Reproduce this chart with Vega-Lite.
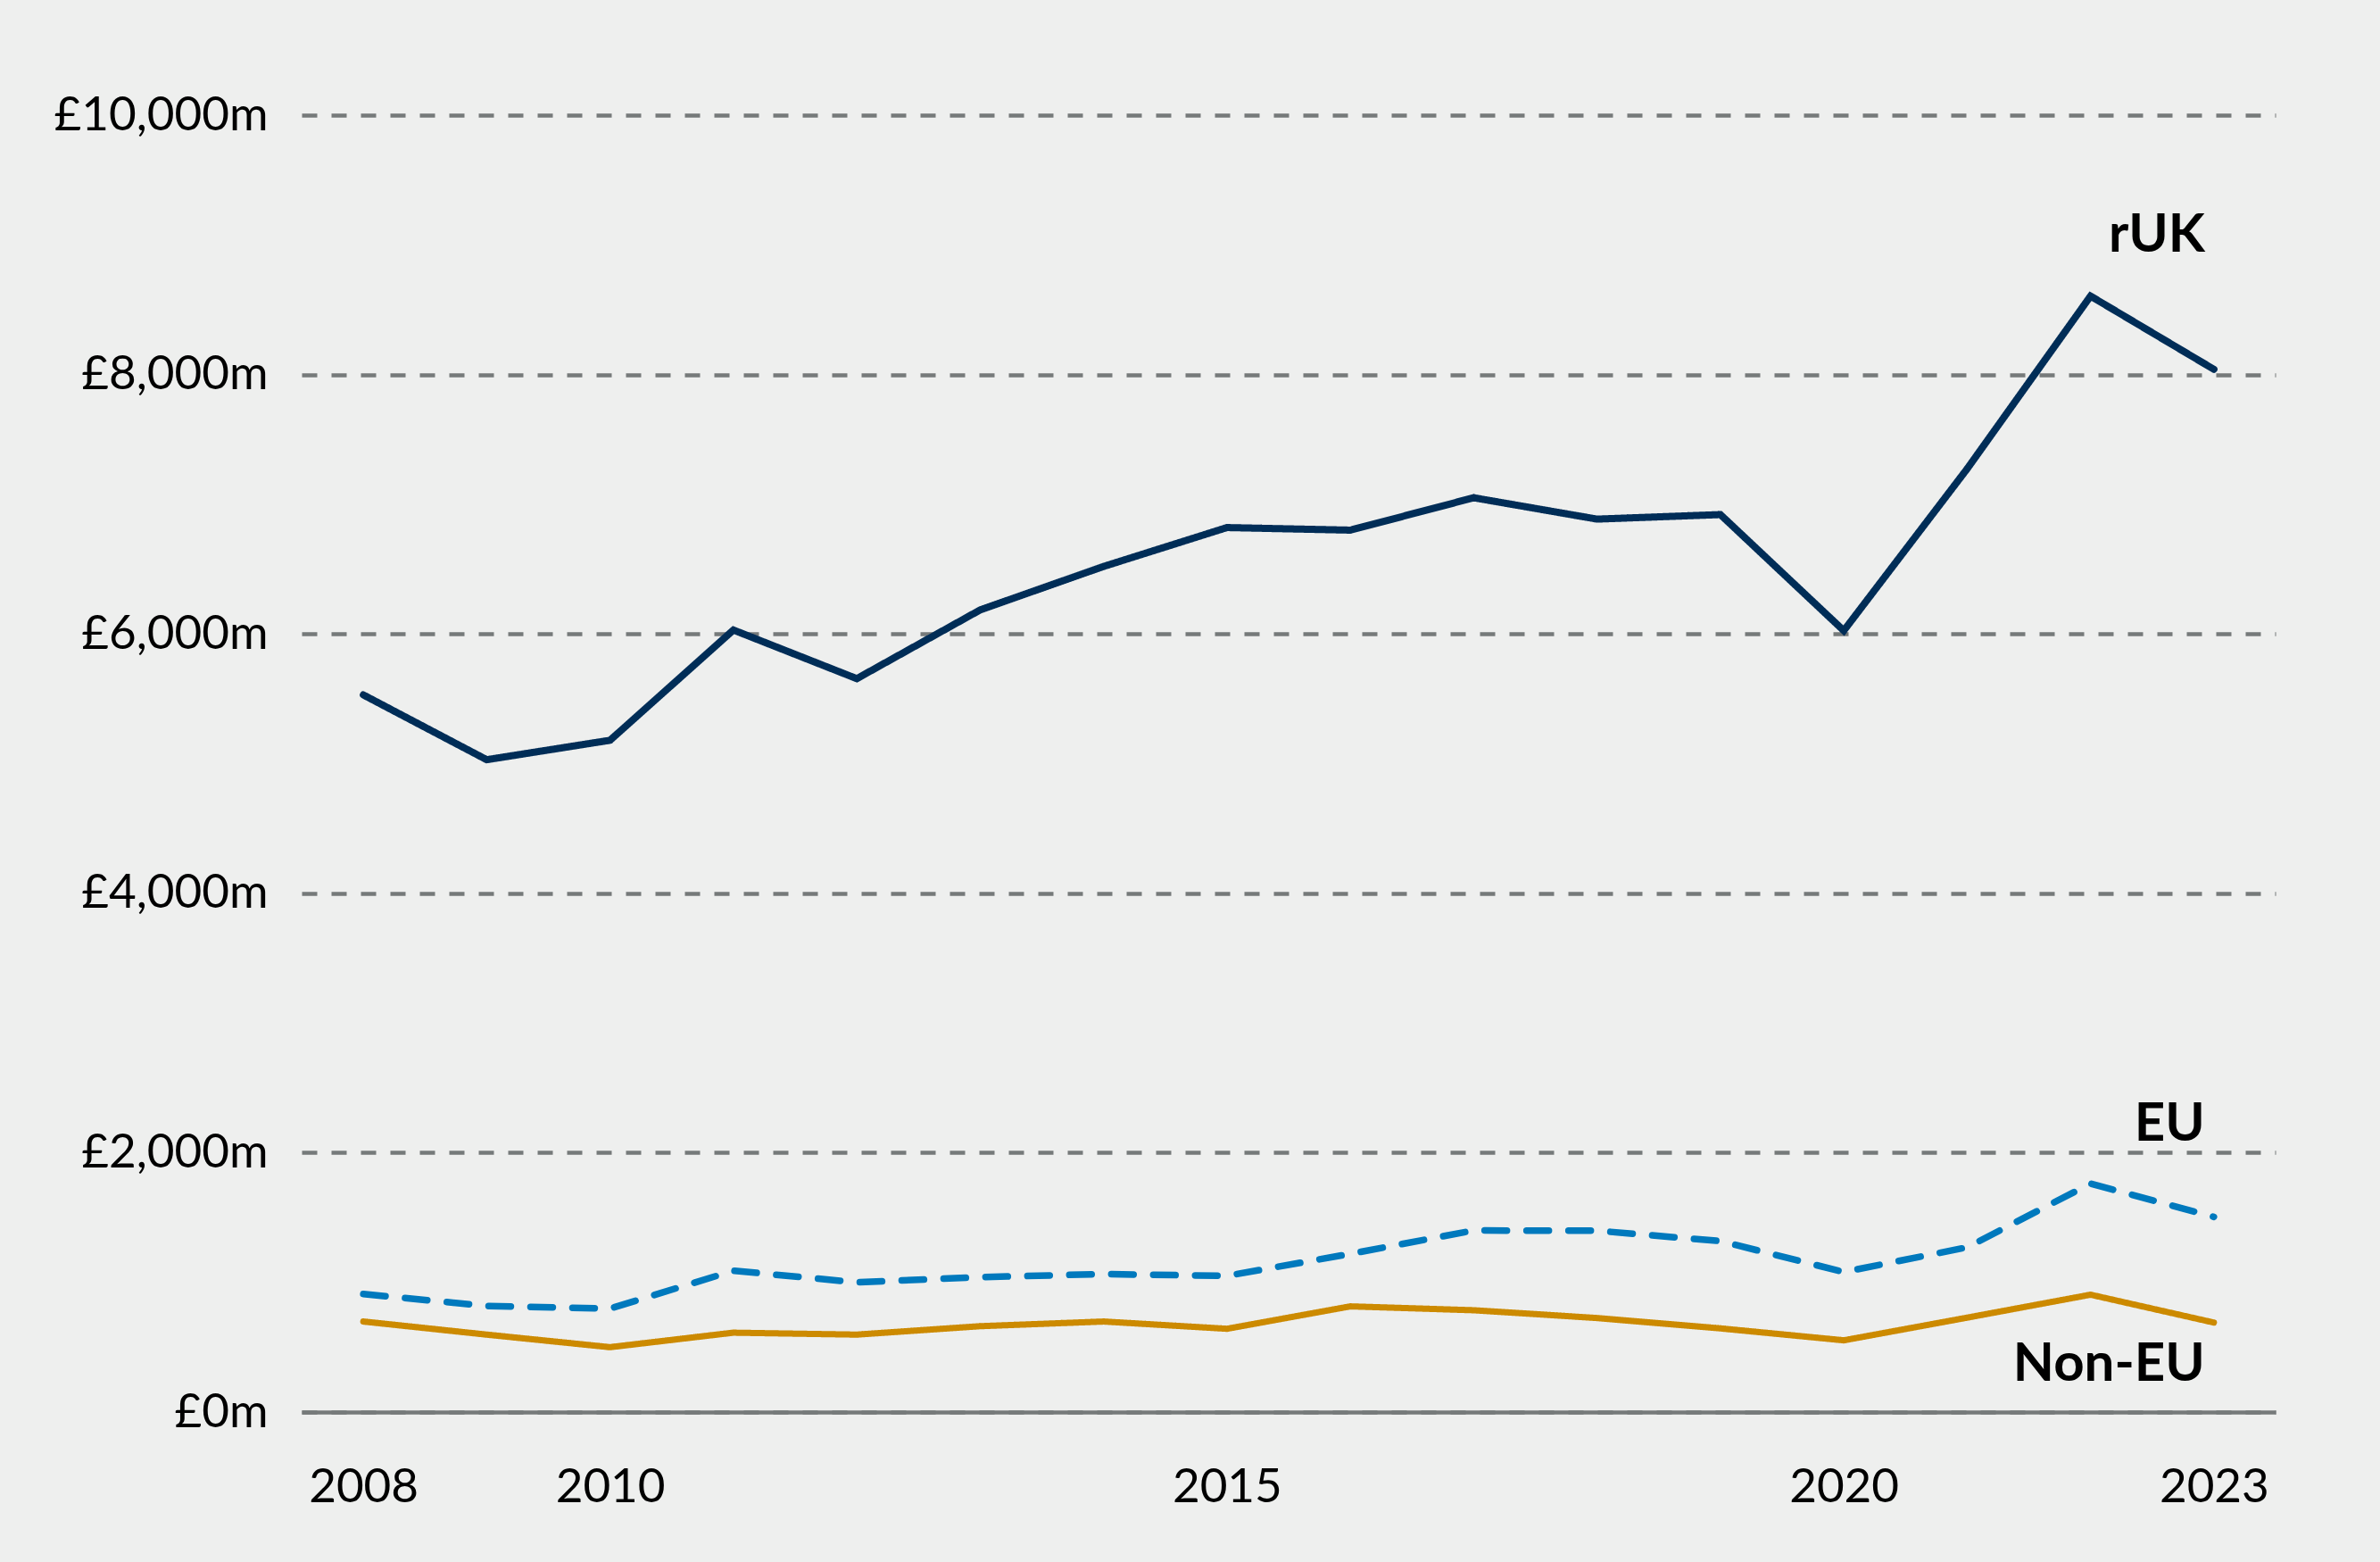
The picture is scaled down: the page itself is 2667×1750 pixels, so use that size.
{
  "$schema": "https://vega.github.io/schema/vega-lite/v6.json",
  "autosize": "none",
  "width": 2212,
  "height": 1453,
  "padding": {"left": 338, "top": 129, "right": 117, "bottom": 168},
  "background": "#eeefee",
  "config": {
    "view": {"stroke": null},
    "font": "Lato",
    "axis": {"labelFont": "Lato", "labelColor": "#000000", "labelFontSize": 53, "labelLimit": 0, "ticks": false, "title": null}
  },
  "datasets": {
    "series": [
      {"year": 2008, "series": "rUK", "value": 5530},
      {"year": 2009, "series": "rUK", "value": 5030},
      {"year": 2010, "series": "rUK", "value": 5180},
      {"year": 2011, "series": "rUK", "value": 6030},
      {"year": 2012, "series": "rUK", "value": 5655},
      {"year": 2013, "series": "rUK", "value": 6185},
      {"year": 2014, "series": "rUK", "value": 6520},
      {"year": 2015, "series": "rUK", "value": 6820},
      {"year": 2016, "series": "rUK", "value": 6800},
      {"year": 2017, "series": "rUK", "value": 7050},
      {"year": 2018, "series": "rUK", "value": 6885},
      {"year": 2019, "series": "rUK", "value": 6920},
      {"year": 2020, "series": "rUK", "value": 6025},
      {"year": 2021, "series": "rUK", "value": 7273},
      {"year": 2022, "series": "rUK", "value": 8605},
      {"year": 2023, "series": "rUK", "value": 8040},
      {"year": 2008, "series": "EU", "value": 910},
      {"year": 2009, "series": "EU", "value": 818},
      {"year": 2010, "series": "EU", "value": 798},
      {"year": 2011, "series": "EU", "value": 1090},
      {"year": 2012, "series": "EU", "value": 1000},
      {"year": 2013, "series": "EU", "value": 1040},
      {"year": 2014, "series": "EU", "value": 1064},
      {"year": 2015, "series": "EU", "value": 1050},
      {"year": 2016, "series": "EU", "value": 1220},
      {"year": 2017, "series": "EU", "value": 1400},
      {"year": 2018, "series": "EU", "value": 1398},
      {"year": 2019, "series": "EU", "value": 1318},
      {"year": 2020, "series": "EU", "value": 1080},
      {"year": 2021, "series": "EU", "value": 1270},
      {"year": 2022, "series": "EU", "value": 1762},
      {"year": 2023, "series": "EU", "value": 1505},
      {"year": 2008, "series": "Non-EU", "value": 698},
      {"year": 2009, "series": "Non-EU", "value": 597},
      {"year": 2010, "series": "Non-EU", "value": 500},
      {"year": 2011, "series": "Non-EU", "value": 612},
      {"year": 2012, "series": "Non-EU", "value": 597},
      {"year": 2013, "series": "Non-EU", "value": 662},
      {"year": 2014, "series": "Non-EU", "value": 698},
      {"year": 2015, "series": "Non-EU", "value": 642},
      {"year": 2016, "series": "Non-EU", "value": 815},
      {"year": 2017, "series": "Non-EU", "value": 785},
      {"year": 2018, "series": "Non-EU", "value": 725},
      {"year": 2019, "series": "Non-EU", "value": 645},
      {"year": 2020, "series": "Non-EU", "value": 553},
      {"year": 2021, "series": "Non-EU", "value": 728},
      {"year": 2022, "series": "Non-EU", "value": 905},
      {"year": 2023, "series": "Non-EU", "value": 690}
    ],
    "labels": [
      {"year": 2023, "value": 8950, "label": "rUK"},
      {"year": 2023, "value": 2093, "label": "EU"},
      {"year": 2023, "value": 241, "label": "Non-EU"}
    ]
  },
  "layer": [
    {
      "data": {"name": "series"},
      "mark": {"type": "line", "strokeCap": "round"},
      "encoding": {
        "x": {
          "field": "year",
          "type": "quantitative",
          "scale": {"domain": [2007.5, 2023.5], "nice": false, "zero": false},
          "axis": {
            "values": [2008, 2010, 2015, 2020, 2023],
            "format": "d",
            "grid": false,
            "domainColor": "#767a7a",
            "domainWidth": 4.5,
            "labelPadding": 58
          }
        },
        "y": {
          "field": "value",
          "type": "quantitative",
          "scale": {"domain": [0, 10000], "nice": false},
          "axis": {
            "values": [0, 2000, 4000, 6000, 8000, 10000],
            "labelExpr": "'£' + format(datum.value, ',') + 'm'",
            "domain": false,
            "grid": true,
            "gridColor": "#767a7a",
            "gridWidth": 4.3,
            "gridDash": [17, 16],
            "labelPadding": 38
          }
        },
        "color": {
          "field": "series",
          "type": "nominal",
          "scale": {"domain": ["rUK", "EU", "Non-EU"], "range": ["#002d57", "#0079bd", "#cc8a00"]},
          "legend": null
        },
        "strokeDash": {
          "field": "series",
          "type": "nominal",
          "scale": {"domain": ["rUK", "EU", "Non-EU"], "range": [[1, 0], [25, 22], [1, 0]]},
          "legend": null
        },
        "strokeWidth": {
          "field": "series",
          "type": "nominal",
          "scale": {"domain": ["rUK", "EU", "Non-EU"], "range": [8, 7, 7]},
          "legend": null
        }
      }
    },
    {
      "data": {"name": "labels"},
      "mark": {"type": "text", "align": "right", "baseline": "alphabetic", "dx": -10, "fontSize": 60, "fontWeight": "bold", "font": "Lato", "color": "#000000"},
      "encoding": {
        "x": {"field": "year", "type": "quantitative"},
        "y": {"field": "value", "type": "quantitative"},
        "text": {"field": "label", "type": "nominal"}
      }
    }
  ]
}
